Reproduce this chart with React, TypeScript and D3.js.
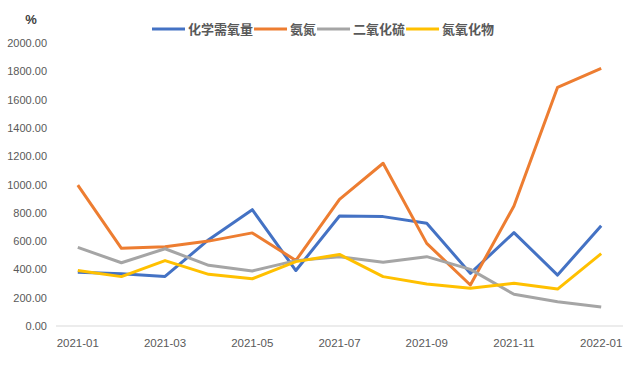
import { useEffect, useRef } from 'react';
import * as d3 from 'd3';

const months = [
  '2021-01', '2021-02', '2021-03', '2021-04', '2021-05', '2021-06', '2021-07',
  '2021-08', '2021-09', '2021-10', '2021-11', '2021-12', '2022-01',
];

const codValues = [380, 370, 350, 610, 822, 392, 777, 773, 726, 372, 660, 360, 709];
const ammoniaValues = [995, 549, 560, 600, 658, 463, 895, 1150, 584, 290, 848, 1687, 1821];
const so2Values = [556, 447, 546, 429, 389, 462, 490, 450, 490, 400, 224, 172, 134];
const noxValues = [393, 349, 462, 365, 334, 455, 506, 349, 297, 266, 302, 261, 511];

const yTicks = [0, 200, 400, 600, 800, 1000, 1200, 1400, 1600, 1800, 2000];

const series = [
  { name: '化学需氧量', values: codValues, color: '#4472C4' },
  { name: '氨氮', values: ammoniaValues, color: '#ED7D31' },
  { name: '二氧化硫', values: so2Values, color: '#A5A5A5' },
  { name: '氮氧化物', values: noxValues, color: '#FFC000' },
];

const W = 640, H = 373;
const FONT = '"Liberation Sans", Arial, sans-serif';
const CJK = '"Noto Sans CJK SC", sans-serif';

export default function App() {
  const svgRef = useRef<SVGSVGElement>(null);

  useEffect(() => {
    if (!svgRef.current) return;
    const svg = d3.select(svgRef.current);
    svg.selectAll('*').remove();

    const x = d3.scaleBand<string>().domain(months).range([56, 623]);
    const y = d3.scaleLinear().domain([0, 2000]).range([326, 43]);
    const cx = (m: string) => (x(m) ?? 0) + x.bandwidth() / 2;

    // y labels
    svg.append('g').selectAll('text').data(yTicks).join('text')
      .attr('x', 47).attr('y', (d) => y(d) + 4)
      .attr('text-anchor', 'end')
      .attr('font-family', FONT).attr('font-size', 11)
      .attr('fill', '#595959')
      .text((d) => d.toFixed(2));

    // baseline
    svg.append('line')
      .attr('x1', 56).attr('x2', 623)
      .attr('y1', y(0)).attr('y2', y(0))
      .attr('stroke', '#D9D9D9').attr('stroke-width', 1);

    // x labels
    svg.append('g').selectAll('text').data(months.filter((_, i) => i % 2 === 0)).join('text')
      .attr('x', (d) => cx(d)).attr('y', 347)
      .attr('text-anchor', 'middle')
      .attr('font-family', FONT).attr('font-size', 11.5)
      .attr('fill', '#595959')
      .text((d) => d);

    // lines
    const line = d3.line<number>()
      .x((_, i) => cx(months[i]))
      .y((d) => y(d));
    series.forEach((s) => {
      svg.append('path')
        .datum(s.values)
        .attr('d', line)
        .attr('fill', 'none')
        .attr('stroke', s.color)
        .attr('stroke-width', 3)
        .attr('stroke-linejoin', 'round');
    });

    // unit
    svg.append('text')
      .attr('x', 31).attr('y', 24)
      .attr('text-anchor', 'middle')
      .attr('font-family', FONT).attr('font-size', 13).attr('font-weight', 700)
      .attr('fill', '#404040')
      .text('%');

    // legend
    const lg = svg.append('g');
    let lx = 152;
    series.forEach((s) => {
      lg.append('line')
        .attr('x1', lx).attr('x2', lx + 33)
        .attr('y1', 29).attr('y2', 29)
        .attr('stroke', s.color).attr('stroke-width', 3);
      const t = lg.append('text')
        .attr('x', lx + 36).attr('y', 34)
        .attr('font-family', CJK).attr('font-size', 13).attr('font-weight', 700)
        .attr('fill', '#595959')
        .text(s.name);
      const tw = (t.node() as SVGTextElement).getComputedTextLength();
      lx += 36 + tw + 1;
    });
  }, []);

  return (
    <svg
      ref={svgRef}
      width={W}
      height={H}
      viewBox={`0 0 ${W} ${H}`}
      style={{ position: 'absolute', left: 0, top: 0, background: '#fff' }}
    />
  );
}
